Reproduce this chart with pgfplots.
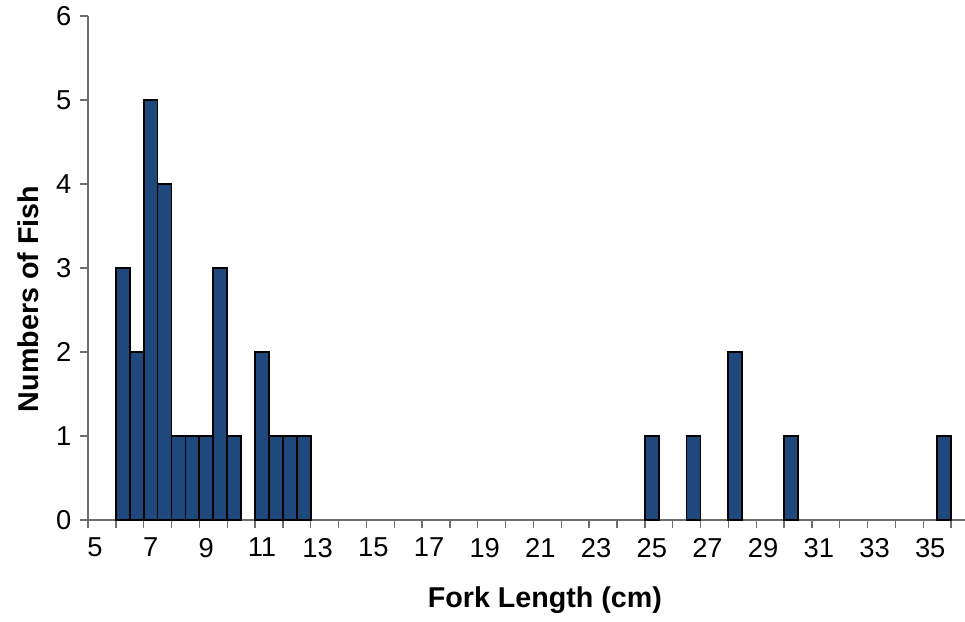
\documentclass[border=0pt]{standalone}
\usepackage{fontspec}
\setmainfont{Liberation Sans}
\usepackage{pgfplots}
\pgfplotsset{compat=1.18}
\definecolor{barblue}{RGB}{31,73,125}
\definecolor{axgray}{RGB}{110,110,110}
\begin{document}
\begin{tikzpicture}
\begin{axis}[name=ax,
  scale only axis, width=657.75pt, height=378pt,
  xmin=4.75, xmax=36.25, ymin=0, ymax=6,
  axis x line=bottom, axis y line=left,
  axis line style={-, draw=axgray, line width=1pt},
  xtick={5,7,...,35},
  major x tick style={draw=none},
  minor xtick={4.75,5.75,...,35.75},
  ytick={0,1,2,3,4,5,6},
  tick align=outside,
  tick style={draw=axgray, line width=1pt},
  major tick length=6pt, minor tick length=6pt,
  /pgf/number format/assume math mode=true,
  ticklabel style={font=\fontsize{20.5}{22}\selectfont},
  xticklabel style={yshift=-4pt},
  yticklabel style={xshift=-3pt},
  ybar, bar width=0.5, bar shift=0pt,
  every axis x label/.style={at={(rel axis cs:0.521,-0.1587)}, anchor=center, font=\fontsize{21.5}{24}\selectfont\bfseries},
  every axis y label/.style={at={(rel axis cs:-0.0684,0.4385)}, anchor=center, rotate=90, font=\fontsize{21.5}{24}\selectfont\bfseries},
  xlabel={Fork Length (cm)},
  ylabel={Numbers of Fish},
  clip=false,
]
\addplot[fill=barblue, draw=black, line width=1.3pt] coordinates {
  (6,3) (6.5,2) (7,5) (7.5,4) (8,1) (8.5,1) (9,1) (9.5,3) (10,1)
  (11,2) (11.5,1) (12,1) (12.5,1)
  (25,1) (26.5,1) (28,2) (30,1) (35.5,1)
};
\end{axis}
\pgfresetboundingbox
\path ([xshift=-66pt,yshift=-76.5pt]ax.south west) rectangle ([yshift=12pt]ax.north east);
\end{tikzpicture}
\end{document}
